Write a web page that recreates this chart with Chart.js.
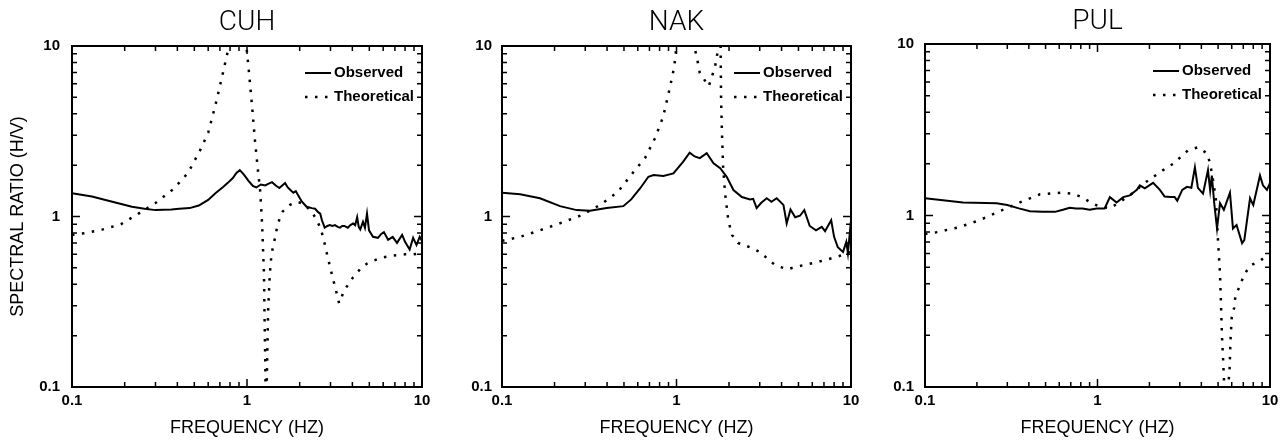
<!DOCTYPE html>
<html><head><meta charset="utf-8">
<script src="https://cdn.jsdelivr.net/npm/chart.js@4.4.1/dist/chart.umd.min.js"></script>
<style>
html,body{margin:0;padding:0;background:#fff;overflow:hidden;width:1288px;height:441px;}
canvas{position:absolute;top:0;}
</style></head><body>
<canvas id="c0" width="440" height="441" style="left:0px"></canvas>
<canvas id="c1" width="430" height="441" style="left:440px"></canvas>
<canvas id="c2" width="418" height="441" style="left:870px"></canvas>
<script>
// ---------- DATA ----------
const stations = ['CUH', 'NAK', 'PUL'];
const seriesLabels = ['Observed', 'Theoretical'];
const xAxisTitle = 'FREQUENCY (HZ)';
const yAxisTitle = 'SPECTRAL RATIO (H/V)';
const tickValues = [0.1,0.2,0.3,0.4,0.5,0.6,0.7,0.8,0.9,1,2,3,4,5,6,7,8,9,10];
const majorTicks = [0.1, 1, 10];
const tickLabels = ['0.1', '1', '10'];

const cuhObsFreq = [0.1,0.13,0.17,0.22,0.26,0.30,0.37,0.41,0.47,0.53,0.6,0.66,0.73,0.78,0.83,0.87,0.91,0.96,1.02,1.08,1.13,1.2,1.27,1.33,1.39,1.46,1.53,1.59,1.65,1.71,1.77,1.84,1.9,1.97,2.06,2.19,2.35,2.45,2.55,2.62,2.68,2.78,2.88,2.97,3.08,3.18,3.3,3.4,3.5,3.6,3.77,3.9,4.04,4.15,4.26,4.35,4.44,4.6,4.72,4.85,4.98,5.25,5.6,5.85,6.06,6.4,6.8,7.2,7.7,8.0,8.5,8.9,9.3,9.7,10];
const cuhObsVal  = [1.37,1.31,1.22,1.14,1.11,1.09,1.10,1.11,1.12,1.16,1.25,1.37,1.49,1.58,1.68,1.80,1.87,1.76,1.62,1.51,1.48,1.54,1.52,1.56,1.59,1.52,1.47,1.52,1.57,1.48,1.43,1.38,1.41,1.32,1.22,1.14,1.12,1.11,1.06,1.04,0.95,0.86,0.88,0.89,0.88,0.89,0.87,0.86,0.88,0.88,0.86,0.89,0.91,0.89,0.99,0.87,0.84,0.93,0.86,1.04,0.83,0.76,0.75,0.79,0.81,0.73,0.76,0.70,0.78,0.71,0.64,0.75,0.68,0.76,0.72];
const cuhTheoFreq = [0.1,0.12,0.15,0.19,0.24,0.3,0.38,0.46,0.54,0.6,0.66,0.72,0.78,0.83,0.88,0.94,0.99,1.02,1.07,1.11,1.15,1.19,1.22,1.25,1.27,1.285,1.30,1.32,1.35,1.38,1.45,1.5,1.6,1.76,1.93,2.1,2.23,2.38,2.51,2.62,2.72,2.9,3.05,3.18,3.36,3.6,4.04,4.5,4.85,5.75,6.8,8.0,8.9,10];
const cuhTheoVal  = [0.78,0.80,0.84,0.90,1.04,1.20,1.45,1.80,2.45,3.1,4.5,6.6,9.5,14,25,15,10.2,7.5,4.4,2.8,1.95,1.4,0.9,0.46,0.15,0.06,0.12,0.28,0.46,0.6,0.76,0.91,1.07,1.17,1.22,1.19,1.12,1.04,0.95,0.86,0.76,0.57,0.46,0.39,0.31,0.37,0.44,0.50,0.53,0.57,0.59,0.60,0.60,0.61];

const nakObsFreq = [0.1,0.127,0.165,0.215,0.268,0.319,0.398,0.496,0.55,0.618,0.69,0.74,0.84,0.96,1.09,1.19,1.27,1.36,1.49,1.63,1.78,1.94,2.12,2.37,2.64,2.75,2.88,3.05,3.29,3.5,3.75,4.1,4.28,4.5,4.79,5.1,5.4,5.8,6.3,6.8,7.1,7.7,8.0,8.4,9.0,9.4,9.6,10];
const nakObsVal  = [1.38,1.35,1.28,1.15,1.09,1.08,1.12,1.15,1.26,1.46,1.71,1.75,1.73,1.79,2.09,2.37,2.25,2.2,2.35,2.05,1.92,1.71,1.43,1.30,1.26,1.27,1.12,1.2,1.28,1.22,1.28,1.17,0.91,1.1,0.99,1.01,1.09,0.88,0.83,0.87,0.82,0.95,0.76,0.66,0.62,0.71,0.61,0.95];
const nakTheoFreq = [0.1,0.127,0.165,0.22,0.287,0.365,0.46,0.578,0.66,0.753,0.838,0.918,0.97,1.0,1.1,1.18,1.25,1.31,1.36,1.53,1.66,1.73,1.77,1.785,1.80,1.82,1.85,1.9,1.94,1.98,2.08,2.25,2.64,3.0,3.66,4.3,4.97,6.4,8.3,10];
const nakTheoVal  = [0.72,0.76,0.83,0.92,1.02,1.17,1.39,1.87,2.2,2.88,3.84,5.75,7.5,10,25,20,10.5,8.5,6.95,5.8,7.5,9.5,14,14,5.0,3.2,1.95,1.35,1.14,0.95,0.78,0.70,0.66,0.62,0.52,0.49,0.51,0.54,0.58,0.62];

const pulObsFreq = [0.1,0.166,0.26,0.30,0.35,0.406,0.48,0.567,0.63,0.69,0.75,0.82,0.9,0.99,1.1,1.18,1.29,1.41,1.54,1.69,1.76,1.88,2.1,2.3,2.45,2.65,2.8,2.9,3.1,3.3,3.5,3.67,3.82,4.09,4.37,4.5,4.6,4.75,4.93,5.13,5.4,5.86,6.1,6.4,6.89,7.1,7.66,8.0,8.75,9.1,9.6,10];
const pulObsVal  = [1.26,1.19,1.18,1.15,1.10,1.06,1.05,1.05,1.08,1.11,1.10,1.10,1.08,1.10,1.10,1.28,1.19,1.28,1.31,1.41,1.5,1.44,1.55,1.41,1.29,1.28,1.28,1.22,1.41,1.47,1.45,1.91,1.45,1.34,1.84,1.40,1.71,1.18,0.84,1.18,1.08,1.36,0.84,0.88,0.69,0.72,1.26,1.15,1.71,1.5,1.41,1.55];
const pulTheoFreq = [0.1,0.117,0.155,0.208,0.265,0.346,0.464,0.62,0.72,0.81,0.93,1.0,1.18,1.54,1.88,2.4,2.74,3.35,3.83,4.32,4.5,4.68,4.86,5.0,5.13,5.2,5.27,5.35,5.42,5.55,5.72,5.82,5.9,6.0,6.2,6.3,6.7,7.07,7.66,8.66,10];
const pulTheoVal  = [0.78,0.80,0.85,0.94,1.05,1.18,1.33,1.36,1.34,1.28,1.18,1.14,1.10,1.31,1.55,1.84,2.0,2.4,2.5,2.3,2.0,1.6,1.23,0.7,0.46,0.30,0.195,0.144,0.105,0.07,0.104,0.12,0.186,0.256,0.29,0.34,0.39,0.45,0.51,0.54,0.6];

// ---------- LAYOUT / STYLE ----------
const FONT = "'Liberation Sans', Arial, sans-serif";
const panels = [
  {canvas:'c0', name:stations[0], obs:[cuhObsFreq,cuhObsVal], theo:[cuhTheoFreq,cuhTheoVal], yw:72, padR:18, titlePad:6.2, yTitle:true, yTickPad:12},
  {canvas:'c1', name:stations[1], obs:[nakObsFreq,nakObsVal], theo:[nakTheoFreq,nakTheoVal], yw:62, padR:19, titlePad:6.2, yTitle:false, yTickPad:10},
  {canvas:'c2', name:stations[2], obs:[pulObsFreq,pulObsVal], theo:[pulTheoFreq,pulTheoVal], yw:55, padR:18, titlePad:5.2, yTitle:false, yTickPad:11}
];

const toPts = (f, v) => f.map((x, i) => ({x: x, y: v[i]}));
const tickCb = (val) => { const i = majorTicks.indexOf(val); return i >= 0 ? tickLabels[i] : ''; };
const setTicks = (s) => { s.ticks = tickValues.map(v => ({value: v, major: majorTicks.includes(v)})); };

const framePlugin = {
  id: 'frame',
  afterDraw(chart) {
    const {ctx, chartArea: a, scales: {x, y}} = chart;
    ctx.save();
    ctx.strokeStyle = '#000';
    ctx.lineWidth = 1.5;
    ctx.beginPath();
    tickValues.forEach(v => {
      const len = majorTicks.includes(v) ? 8 : 5;
      const px = x.getPixelForValue(v);
      ctx.moveTo(px, a.bottom); ctx.lineTo(px, a.bottom - len);
      ctx.moveTo(px, a.top); ctx.lineTo(px, a.top + len);
      const py = y.getPixelForValue(v);
      ctx.moveTo(a.left, py); ctx.lineTo(a.left + len, py);
      ctx.moveTo(a.right, py); ctx.lineTo(a.right - len, py);
    });
    ctx.stroke();
    ctx.lineWidth = 2;
    ctx.strokeRect(a.left, a.top, a.right - a.left, a.bottom - a.top);
    ctx.restore();
  }
};

const legendPlugin = {
  id: 'insideLegend',
  afterDraw(chart) {
    const {ctx, chartArea: a} = chart;
    ctx.save();
    chart.data.datasets.forEach((ds, i) => {
      const y = a.top + 27 + i * 24;
      ctx.beginPath();
      ctx.setLineDash(ds.borderDash || []);
      ctx.lineWidth = ds.borderWidth;
      ctx.strokeStyle = ds.borderColor;
      ctx.moveTo(a.right - 117, y); ctx.lineTo(a.right - 91, y);
      ctx.stroke();
      ctx.setLineDash([]);
      ctx.fillStyle = '#000';
      ctx.font = 'bold 15px ' + FONT;
      ctx.textBaseline = 'middle';
      ctx.textAlign = 'left';
      ctx.fillText(ds.label, a.right - 88, y);
    });
    ctx.restore();
  }
};

panels.forEach(p => {
  new Chart(document.getElementById(p.canvas), {
    type: 'line',
    data: {
      datasets: [
        {label: seriesLabels[0], data: toPts(p.obs[0], p.obs[1]), borderColor: '#000', borderWidth: 2, pointRadius: 0, tension: 0, fill: false, clip: 0},
        {label: seriesLabels[1], data: toPts(p.theo[0], p.theo[1]), borderColor: '#000', borderWidth: 2.5, borderDash: [2.5, 7.5], pointRadius: 0, tension: 0, fill: false, clip: 0}
      ]
    },
    options: {
      responsive: false,
      animation: false,
      devicePixelRatio: 1,
      events: [],
      layout: {padding: {left: 0, right: p.padR, top: 0, bottom: 0}},
      plugins: {
        legend: {display: false},
        tooltip: {enabled: false},
        title: {display: true, text: p.name, fullSize: false, color: '#000',
                font: {family: "Roboto, 'Liberation Sans', sans-serif", size: 28, weight: '300'},
                padding: {top: p.titlePad, bottom: p.titlePad}}
      },
      scales: {
        x: {
          type: 'logarithmic', position: 'bottom', min: 0.1, max: 10,
          afterBuildTicks: setTicks,
          afterFit: s => { s.height = 54; },
          grid: {display: false, drawTicks: false},
          border: {display: false},
          ticks: {autoSkip: false, maxRotation: 0, padding: 5, color: '#000', callback: tickCb,
                  font: {family: FONT, size: 15, weight: 'bold'}},
          title: {display: true, text: xAxisTitle, color: '#000',
                  font: {family: FONT, size: 18}, padding: {top: 0, bottom: 2.2}}
        },
        y: {
          type: 'logarithmic', position: 'left', min: 0.1, max: 10,
          afterBuildTicks: setTicks,
          afterFit: s => { s.width = p.yw; },
          grid: {display: false, drawTicks: false},
          border: {display: false},
          ticks: {autoSkip: false, padding: p.yTickPad, color: '#000', callback: tickCb,
                  font: {family: FONT, size: 15, weight: 'bold'}},
          title: {display: p.yTitle, text: yAxisTitle, color: '#000',
                  font: {family: FONT, size: 18}, padding: {top: 7.7, bottom: 0}}
        }
      }
    },
    plugins: [framePlugin, legendPlugin]
  });
});
</script>
</body></html>
